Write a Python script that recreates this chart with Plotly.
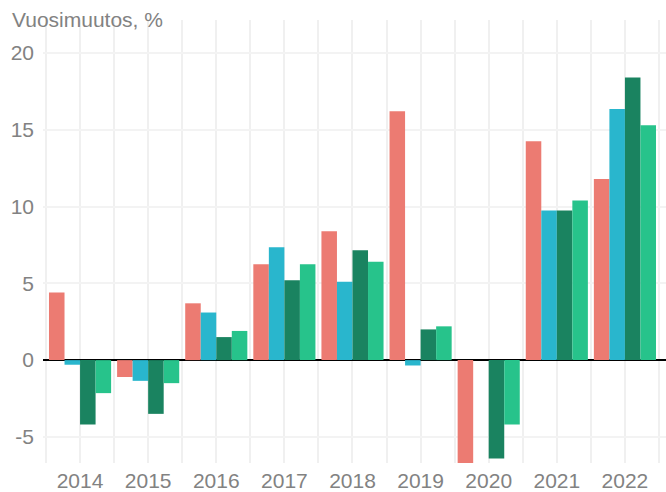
import plotly.graph_objects as go

years = [2014, 2015, 2016, 2017, 2018, 2019, 2020, 2021, 2022]
series_a = [4.4, -1.1, 3.7, 6.25, 8.4, 16.2, -6.9, 14.25, 11.8]
series_b = [-0.3, -1.35, 3.1, 7.35, 5.1, -0.35, 0.0, 9.75, 16.35]
series_c = [-4.2, -3.5, 1.5, 5.2, 7.15, 2.0, -6.4, 9.75, 18.4]
series_d = [-2.15, -1.5, 1.9, 6.25, 6.4, 2.2, -4.2, 10.4, 15.3]
colors = ["#EC7B72", "#29B6CD", "#1A8360", "#27C38B"]
y_ticks = [-5, 0, 5, 10, 15, 20]

fig = go.Figure()
for vals, col in zip([series_a, series_b, series_c, series_d], colors):
    fig.add_trace(go.Bar(x=years, y=vals, marker=dict(color=col, line=dict(width=0)),
                         showlegend=False, hoverinfo="skip"))

font_family = "'Liberation Sans', Arial, sans-serif"
txt_color = "#828282"
fig.update_layout(
    width=666, height=492,
    margin=dict(l=43, r=0, t=20, b=29),
    barmode="group", bargap=0.088, bargroupgap=0,
    plot_bgcolor="white", paper_bgcolor="white",
    font=dict(family=font_family, size=21, color=txt_color),
    xaxis=dict(range=[2013.456, 2022.603], tickvals=years, ticktext=[str(y) for y in years],
               showgrid=True, gridcolor="#f0f0f0", gridwidth=2,
               minor=dict(dtick=1, tick0=2013.5, showgrid=True, gridcolor="#f0f0f0", gridwidth=2),
               zeroline=False, showline=False, ticks="", ticklabelstandoff=3,
               automargin=False,
               tickfont=dict(size=21, color=txt_color)),
    yaxis=dict(range=[-6.7, 22.15], tickvals=y_ticks, ticktext=[str(v) for v in y_ticks],
               showgrid=True, gridcolor="#f3f3f3", gridwidth=2,
               zeroline=True, zerolinecolor="black", zerolinewidth=1.5,
               showline=False, ticks="", ticklabelstandoff=8,
               automargin=False,
               tickfont=dict(size=21, color=txt_color)),
    annotations=[dict(text="Vuosimuutos, %", xref="paper", yref="paper",
                      x=-33/623, y=1.0, xanchor="left", yanchor="bottom",
                      yshift=-13, xshift=0, showarrow=False,
                      font=dict(size=21, color=txt_color, family=font_family))],
)

fig.write_html("out.html", config={"displayModeBar": False},
               post_script="document.body.style.margin='0';document.body.style.overflow='hidden';")
